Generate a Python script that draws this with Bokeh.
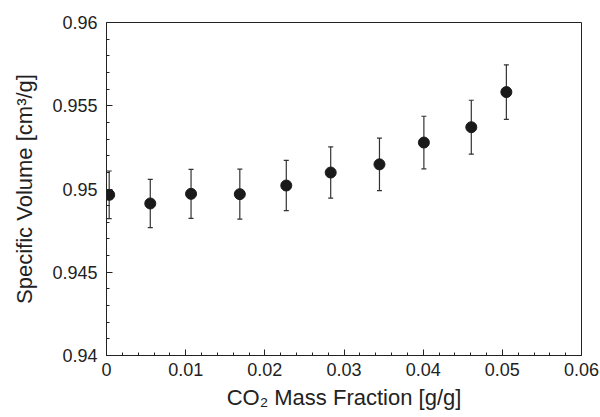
from bokeh.plotting import figure
from bokeh.models import ColumnDataSource, Whisker, TeeHead, FixedTicker, Range1d
from bokeh.embed import file_html
from bokeh.resources import INLINE

# Data
co2_fraction = [0.00034, 0.00553, 0.01068, 0.01684, 0.02271, 0.02832, 0.03448, 0.04009, 0.04608, 0.05051]
specific_volume = [0.94965, 0.94913, 0.94971, 0.94969, 0.95021, 0.95099, 0.95148, 0.95279, 0.95371, 0.95582]
volume_error = [0.00143, 0.00145, 0.00147, 0.00150, 0.00151, 0.00154, 0.00158, 0.00158, 0.00162, 0.00164]

x_ticks = [0.0, 0.01, 0.02, 0.03, 0.04, 0.05, 0.06]
x_tick_labels = ["0", "0.01", "0.02", "0.03", "0.04", "0.05", "0.06"]
x_minor = [0.002, 0.004, 0.006, 0.008, 0.012, 0.014, 0.016, 0.018, 0.022, 0.024, 0.026, 0.028,
           0.032, 0.034, 0.036, 0.038, 0.042, 0.044, 0.046, 0.048, 0.052, 0.054, 0.056, 0.058]
y_ticks = [0.94, 0.945, 0.95, 0.955, 0.96]
y_tick_labels = ["0.94", "0.945", "0.95", "0.955", "0.96"]
y_minor = [0.941, 0.942, 0.943, 0.944, 0.946, 0.947, 0.948, 0.949,
           0.951, 0.952, 0.953, 0.954, 0.956, 0.957, 0.958, 0.959]

source = ColumnDataSource(dict(
    x=co2_fraction,
    y=specific_volume,
    upper=[v + e for v, e in zip(specific_volume, volume_error)],
    lower=[v - e for v, e in zip(specific_volume, volume_error)],
))

FONT = "Liberation Sans"
AX = "#222222"

p = figure(frame_width=475, frame_height=333,
           min_border_left=106, min_border_right=18, min_border_top=22, min_border_bottom=60,
           x_range=Range1d(0, 0.06), y_range=Range1d(0.94, 0.96),
           output_backend="svg", toolbar_location=None, tools="")

p.background_fill_color = "white"
p.border_fill_color = "white"
p.outline_line_color = AX
p.outline_line_width = 1
p.grid.visible = False

whisker = Whisker(base="x", upper="upper", lower="lower", source=source,
                  line_color="#333333", line_width=1.2,
                  upper_head=TeeHead(size=5, line_color="#333333", line_width=1.2),
                  lower_head=TeeHead(size=5, line_color="#333333", line_width=1.2))
p.add_layout(whisker)

p.scatter("x", "y", source=source, size=11, marker="circle",
          fill_color="#1a1a1a", line_color="#1a1a1a")

# x axis
p.xaxis.ticker = FixedTicker(ticks=x_ticks, minor_ticks=x_minor)
p.xaxis.major_label_overrides = {t: l for t, l in zip(x_ticks, x_tick_labels)}
p.xaxis.axis_label = "CO\u2082 Mass Fraction [g/g]"
p.xaxis.major_label_standoff = 7
p.xaxis.axis_label_standoff = 6

# y axis
p.yaxis.ticker = FixedTicker(ticks=y_ticks, minor_ticks=y_minor)
p.yaxis.major_label_overrides = {t: l for t, l in zip(y_ticks, y_tick_labels)}
p.yaxis.axis_label = "Specific Volume [cm\u00b3/g]"
p.yaxis.major_label_standoff = 9
p.yaxis.axis_label_standoff = 12

for ax in (p.xaxis, p.yaxis):
    ax.axis_line_color = AX
    ax.major_tick_line_color = AX
    ax.minor_tick_line_color = AX
    ax.major_tick_in = 6
    ax.major_tick_out = 0
    ax.minor_tick_in = 3
    ax.minor_tick_out = 0
    ax.major_label_text_font = FONT
    ax.major_label_text_font_size = "18px"
    ax.major_label_text_color = "#222222"
    ax.axis_label_text_font = FONT
    ax.axis_label_text_font_style = "normal"
    ax.axis_label_text_color = "#222222"

p.xaxis.axis_label_text_font_size = "22px"
p.yaxis.axis_label_text_font_size = "22px"

open("out.html", "w").write(file_html(p, INLINE))
